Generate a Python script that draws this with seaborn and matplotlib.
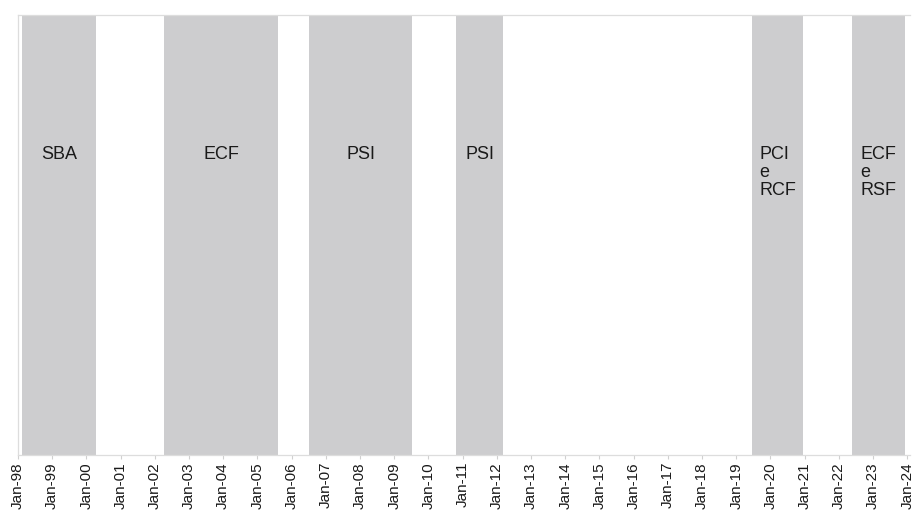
import matplotlib
matplotlib.use("Agg")
import matplotlib.pyplot as plt
import seaborn as sns

# ---- data ----
program_labels = ["SBA", "ECF", "PSI", "PSI", "PCI\ne\nRCF", "ECF\ne\nRSF"]
program_start = [1998.12, 2002.27, 2006.51, 2010.81, 2019.46, 2022.39]
program_end = [2000.28, 2005.60, 2009.52, 2012.18, 2020.95, 2023.94]
tick_years = list(range(1998, 2025))
tick_labels = ["Jan-98", "Jan-99", "Jan-00", "Jan-01", "Jan-02", "Jan-03", "Jan-04",
               "Jan-05", "Jan-06", "Jan-07", "Jan-08", "Jan-09", "Jan-10", "Jan-11",
               "Jan-12", "Jan-13", "Jan-14", "Jan-15", "Jan-16", "Jan-17", "Jan-18",
               "Jan-19", "Jan-20", "Jan-21", "Jan-22", "Jan-23", "Jan-24"]

sns.set_theme(style="white")
plt.rcParams["font.family"] = ["Liberation Sans", "DejaVu Sans"]

W, H = 915, 511
fig = plt.figure(figsize=(W / 100, H / 100), dpi=100)
left_px, right_px, top_px, bottom_px = 18, 910, 15, 455
ax = fig.add_axes([left_px / W, (H - bottom_px) / H,
                   (right_px - left_px) / W, (bottom_px - top_px) / H])

span_color = "#cdcdcf"
for s, e, lab in zip(program_start, program_end, program_labels):
    ax.axvspan(s, e, ymin=0, ymax=1, color=span_color, lw=0, zorder=1)
    ax.text((s + e) / 2, 0.703, lab, ha="center", va="top", multialignment="left",
            fontsize=13, color="#1a1a1a", linespacing=1.1, zorder=3,
            transform=ax.get_xaxis_transform())

ax.set_xlim(1998.0, 2024.08)
ax.set_ylim(0, 1)
ax.set_yticks([])
ax.set_xticks(tick_years)
ax.set_xticklabels(tick_labels, rotation=90, fontsize=11, color="#1a1a1a")
ax.tick_params(axis="x", direction="out", length=3, width=0.8, color="#d0d0d0", pad=2,
               bottom=True)

sns.despine(ax=ax, top=False, right=True, left=False, bottom=False)
for side in ["top", "left", "bottom"]:
    ax.spines[side].set_color("#dddddd")
    ax.spines[side].set_linewidth(0.9)
ax.grid(False)

fig.savefig("out.png", dpi=100)
